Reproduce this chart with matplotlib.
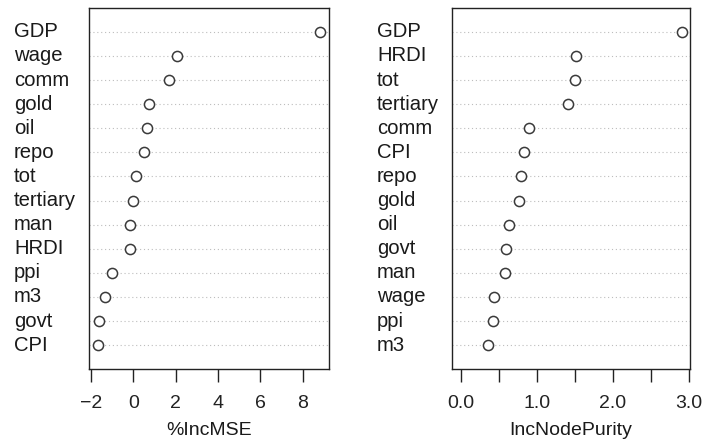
import numpy as np
import matplotlib
matplotlib.use("Agg")
from matplotlib import pyplot as plt
from matplotlib import transforms

plt.rcParams['font.family'] = ['Liberation Sans', 'DejaVu Sans']

# variable importance, listed top to bottom
mse_vars = ['GDP', 'wage', 'comm', 'gold', 'oil', 'repo', 'tot', 'tertiary',
            'man', 'HRDI', 'ppi', 'm3', 'govt', 'CPI']
mse_vals = [8.83, 2.09, 1.71, 0.76, 0.63, 0.51, 0.11, -0.02,
            -0.13, -0.13, -0.98, -1.31, -1.64, -1.67]

purity_vars = ['GDP', 'HRDI', 'tot', 'tertiary', 'comm', 'CPI', 'repo', 'gold',
               'oil', 'govt', 'man', 'wage', 'ppi', 'm3']
purity_vals = [2.904, 1.511, 1.498, 1.415, 0.894, 0.837, 0.793, 0.762,
               0.640, 0.596, 0.582, 0.438, 0.420, 0.359]

mse_ticks = [-2, 0, 2, 4, 6, 8]
mse_ticklabels = ['\u22122', '0', '2', '4', '6', '8']
purity_ticks = [0.0, 0.5, 1.0, 1.5, 2.0, 2.5, 3.0]
purity_ticklabels = ['0.0', '', '1.0', '', '2.0', '', '3.0']

fig = plt.figure(figsize=(7.04, 4.41), dpi=100)
ax1 = fig.add_axes([0.1264, 0.1626, 0.341, 0.8199])
ax2 = fig.add_axes([0.6416, 0.1626, 0.3392, 0.8199])

TXT = '#1a1a1a'


def dotchart(ax, names, vals, xmin, ticks, ticklabels, xlabel, label_x):
    n = len(names)
    ypos = np.arange(n, 0, -1)
    for y in ypos:
        ax.axhline(y, color='#bdbdbd', lw=0.8, ls=(0, (1, 2.5)), zorder=1)
    ax.plot(vals, ypos, 'o', ms=7.3, mfc='white', mec='#3a3a3a', mew=1.1,
            ls='none', zorder=3)
    lo = xmin
    hi = max(vals)
    pad = (hi - lo) * 0.04
    ax.set_xlim(lo - pad, hi + pad)
    ax.set_ylim(0, n + 1)
    ax.set_yticks([])
    ax.set_xticks(ticks)
    ax.set_xticklabels(ticklabels, fontsize=14, color=TXT)
    ax.tick_params(axis='x', direction='out', length=9.5, width=1, pad=9,
                   colors='#222222')
    ax.set_xlabel(xlabel, fontsize=14, labelpad=7, color=TXT)
    for s in ax.spines.values():
        s.set_linewidth(1)
        s.set_color('#222222')
    tr = transforms.blended_transform_factory(fig.transFigure, ax.transData)
    for name, y in zip(names, ypos):
        ax.text(label_x, y, name, transform=tr, ha='left', va='center',
                fontsize=14.6, color=TXT)


dotchart(ax1, mse_vars, mse_vals, min(mse_vals), mse_ticks, mse_ticklabels,
         '%IncMSE', 14 / 704)
dotchart(ax2, purity_vars, purity_vals, 0, purity_ticks, purity_ticklabels,
         'IncNodePurity', 377 / 704)

fig.savefig('out.png', dpi=100)
